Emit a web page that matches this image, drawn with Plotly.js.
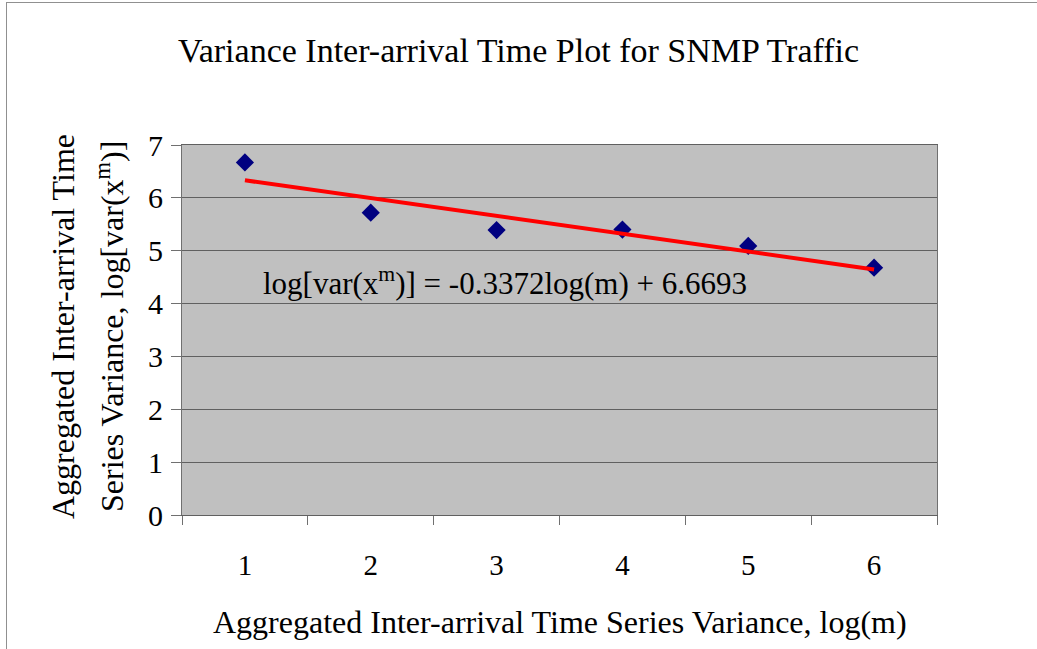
<!DOCTYPE html>
<html>
<head>
<meta charset="utf-8">
<script src="https://cdn.plot.ly/plotly-3.0.1.min.js"></script>
<style>
html,body{margin:0;padding:0;background:#fff;}
#frame{position:absolute;left:6px;top:2px;width:1040px;height:660px;border-left:1px solid #909090;border-top:1px solid #909090;box-sizing:border-box;}
#chart{position:absolute;left:0;top:0;width:1037px;height:649px;}
</style>
</head>
<body>
<div id="frame"></div>
<div id="chart"></div>
<script>
// Data
const categories = ['1', '2', '3', '4', '5', '6'];
const variance = [6.67, 5.72, 5.39, 5.40, 5.09, 4.68];
// Trend line coefficients as stated in the chart's equation label
const trendSlope = -0.3372;
const trendIntercept = 6.6693;
const yTicks = [0, 1, 2, 3, 4, 5, 6, 7];

const trendX = [categories[0], categories[categories.length - 1]];
const trendY = [trendSlope * 1 + trendIntercept, trendSlope * categories.length + trendIntercept];

const serif = 'Liberation Serif, Times New Roman, serif';
const plotL = 182, plotR = 937;
const px = v => (v - plotL) / (plotR - plotL);

const traces = [
  {
    x: categories, y: variance, type: 'scatter', mode: 'markers',
    marker: {symbol: 'diamond', color: '#000080', size: 14},
    hoverinfo: 'x+y', showlegend: false
  },
  {
    x: trendX, y: trendY, type: 'scatter', mode: 'lines',
    line: {color: '#ff0000', width: 4},
    showlegend: false
  }
];

const layout = {
  width: 1037, height: 649,
  paper_bgcolor: 'rgba(0,0,0,0)',
  plot_bgcolor: '#c0c0c0',
  margin: {l: plotL, r: 1037 - plotR, t: 145, b: 134},
  title: {
    text: 'Variance Inter-arrival Time Plot for SNMP Traffic',
    font: {family: serif, size: 34, color: '#000'},
    x: 0.5, xanchor: 'center', y: 1 - 50 / 649, yanchor: 'middle'
  },
  xaxis: {
    type: 'category',
    range: [-0.5, categories.length - 0.5],
    tickson: 'boundaries',
    ticks: 'outside', ticklen: 9, tickcolor: '#707070', tickwidth: 1,
    ticklabelstandoff: 24,
    showgrid: false,
    showline: true, linecolor: '#606060', linewidth: 1, mirror: true,
    tickfont: {family: serif, size: 29, color: '#000'},
    zeroline: false, fixedrange: true
  },
  yaxis: {
    range: [0, 7], tickvals: yTicks, ticktext: yTicks.map(String),
    ticks: 'outside', ticklen: 10, tickcolor: '#707070', tickwidth: 1,
    ticklabelstandoff: 2,
    showgrid: true, gridcolor: '#606060', gridwidth: 1,
    showline: true, linecolor: '#707070', linewidth: 1, mirror: true,
    tickfont: {family: serif, size: 30, color: '#000'},
    zeroline: false, fixedrange: true
  },
  annotations: [
    {
      xref: 'paper', yref: 'y',
      x: px(505), y: 4.42,
      xanchor: 'center', yanchor: 'middle',
      text: 'log[var(x<sup>m</sup>)] = -0.3372log(m) + 6.6693',
      showarrow: false,
      font: {family: serif, size: 31, color: '#000'}
    },
    {
      xref: 'paper', yref: 'paper',
      x: px(560), y: -(622 - 515) / (515 - 145),
      xanchor: 'center', yanchor: 'middle',
      text: 'Aggregated Inter-arrival Time Series Variance, log(m)',
      showarrow: false,
      font: {family: serif, size: 32, color: '#000'}
    },
    {
      xref: 'paper', yref: 'paper',
      x: px(63), y: (515 - 327) / (515 - 145),
      xanchor: 'center', yanchor: 'middle', textangle: -90,
      text: 'Aggregated Inter-arrival Time',
      showarrow: false,
      font: {family: serif, size: 32, color: '#000'}
    },
    {
      xref: 'paper', yref: 'paper',
      x: px(110), y: (515 - 327) / (515 - 145),
      xanchor: 'center', yanchor: 'middle', textangle: -90,
      text: 'Series Variance, log[var(x<sup>m</sup>)]',
      showarrow: false,
      font: {family: serif, size: 32, color: '#000'}
    }
  ]
};

Plotly.newPlot('chart', traces, layout, {displayModeBar: false, staticPlot: true});
</script>
</body>
</html>
